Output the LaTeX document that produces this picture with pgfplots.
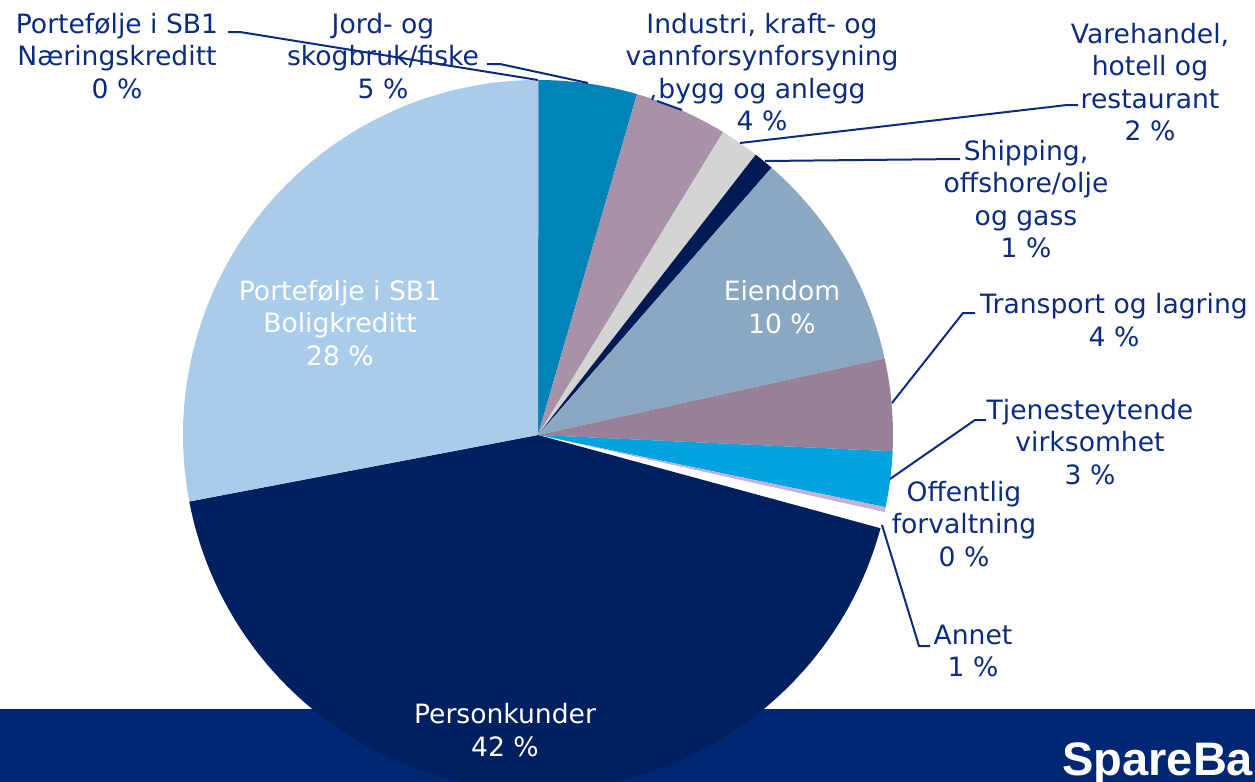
\documentclass[border=0pt]{standalone}
\usepackage{pgfplots}
\usepackage{pgfplotstable}
\pgfplotsset{compat=1.18}
\usepackage{fontspec}
\setmainfont{DejaVu Sans}
\newfontfamily\logofont{Liberation Sans}

\definecolor{cNaer}{HTML}{5B7FB5}
\definecolor{cJord}{HTML}{0084B8}
\definecolor{cInd}{HTML}{A892AA}
\definecolor{cVare}{HTML}{D4D4D4}
\definecolor{cShip}{HTML}{001A55}
\definecolor{cEiend}{HTML}{8AA8C2}
\definecolor{cTrans}{HTML}{968198}
\definecolor{cTjen}{HTML}{00A3E0}
\definecolor{cOff}{HTML}{C8B0D4}
\definecolor{cPers}{HTML}{00205F}
\definecolor{cBolig}{HTML}{A9CCEA}
\definecolor{cBanner}{HTML}{002674}
\definecolor{cText}{HTML}{0B2B80}

% share of the full circle (percent), clockwise from 12 o'clock
\pgfplotstableread{
value color
0.02  cNaer
4.48  cJord
4.23  cInd
1.78  cVare
0.92  cShip
10.11 cEiend
4.19  cTrans
2.53  cTjen
0.23  cOff
0.74  white
42.77 cPers
28.00 cBolig
}\piedata

\begin{document}
\begin{tikzpicture}
\begin{axis}[
  name=ax,
  width=627.5pt, height=391pt, scale only axis,
  xmin=0, xmax=1255, ymin=0, ymax=782, y dir=reverse,
  hide axis, clip=true,
]
% banner
\addplot[fill=cBanner, draw=none] coordinates {(0,709) (1255,709) (1255,782) (0,782)} -- cycle;

% pie
\pgfplotstablegetrowsof{\piedata}
\pgfmathtruncatemacro\N{\pgfplotsretval-1}
\def\cum{0}
\pgfplotsforeachungrouped \i in {0,...,\N}{%
  \pgfplotstablegetelem{\i}{value}\of\piedata \let\v\pgfplotsretval
  \pgfplotstablegetelem{\i}{color}\of\piedata \let\c\pgfplotsretval
  \pgfmathsetmacro\a{90-3.6*\cum}%
  \pgfmathsetmacro\b{90-3.6*(\cum+\v)}%
  \edef\temp{\noexpand\fill[\c] (axis cs:538,435) -- ++(\a:177.5pt) arc[start angle=\a, end angle=\b, radius=177.5pt] -- cycle;}%
  \temp
  \pgfmathsetmacro\cum{\cum+\v}%
}

% leader lines
\begin{scope}[cText, line width=1pt]
\draw (axis cs:228,32) -- (axis cs:240,32) -- (axis cs:538,80);
\draw (axis cs:487,64) -- (axis cs:500,64) -- (axis cs:588,83);
\draw (axis cs:654,95) -- (axis cs:652,100);
\draw (axis cs:657,101) -- (axis cs:682,110);
\draw (axis cs:740,143) -- (axis cs:1067,105) -- (axis cs:1078,105);
\draw (axis cs:765,161) -- (axis cs:960,159);
\draw (axis cs:892,403) -- (axis cs:963,313) -- (axis cs:975,313);
\draw (axis cs:890,479) -- (axis cs:975,420) -- (axis cs:986,420);
\draw (axis cs:882,525) -- (axis cs:919,646) -- (axis cs:930,646);
\end{scope}

% labels
\begin{scope}[every node/.style={align=center, inner sep=0pt, font=\fontsize{13.3}{16.25}\selectfont}]
\node[text=cText] at (axis cs:117,56) {Portefølje i SB1\\Næringskreditt\\0 \%};
\node[text=cText] at (axis cs:383,56) {Jord- og\\skogbruk/fiske\\5 \%};
\node[text=cText] at (axis cs:762,72) {Industri, kraft- og\\vannforsynforsyning\\bygg og anlegg\\4 \%};
\node[text=cText] at (axis cs:1150,82) {Varehandel,\\hotell og\\restaurant\\2 \%};
\node[text=cText] at (axis cs:1026,199) {Shipping,\\offshore/olje\\og gass\\1 \%};
\node[text=white] at (axis cs:782,307) {Eiendom\\10 \%};
\node[text=cText] at (axis cs:1114,320) {Transport og lagring\\4 \%};
\node[text=cText] at (axis cs:1090,442) {Tjenesteytende\\virksomhet\\3 \%};
\node[text=cText] at (axis cs:964,524) {Offentlig\\forvaltning\\0 \%};
\node[text=cText] at (axis cs:973,651) {Annet\\1 \%};
\node[text=white] at (axis cs:505,730) {Personkunder\\42 \%};
\node[text=white] at (axis cs:340,323) {Portefølje i SB1\\Boligkreditt\\28 \%};
\end{scope}

% logo (cut by the slide edge in the reference)
\node[anchor=base west, inner sep=0pt, text=white, font=\logofont\bfseries\fontsize{23.5}{23.5}\selectfont] at (axis cs:1062,775) {SpareBa};
\end{axis}
\pgfresetboundingbox
\path[use as bounding box] (ax.south west) rectangle (ax.north east);
\end{tikzpicture}
\end{document}
